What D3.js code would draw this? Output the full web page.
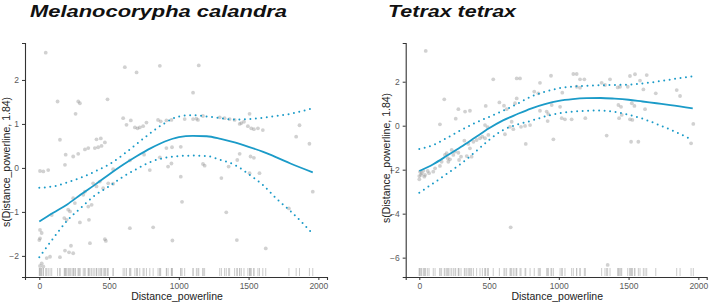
<!DOCTYPE html>
<html lang="en">
<head>
<meta charset="UTF-8">
<title>GAM smooths - distance to powerline</title>
<script src="https://cdn.jsdelivr.net/npm/d3@7"></script>
<style>
    body { margin: 0; background: #fff; }
    svg { display: block; font-family: Arial, "Liberation Sans", sans-serif; }
</style>
</head>
<body>
<svg width="709" height="303"></svg>
<script>
    // x positions where the smooth and its confidence band were read
    const gridX = [0, 100, 200, 300, 400, 500, 600, 700, 800, 900, 1000, 1100, 1200, 1300, 1400, 1500, 1600, 1700, 1800, 1960];
    const xTicks = [0, 500, 1000, 1500, 2000];

    // Melanocorypha calandra
    const calFit   = [-1.22, -1.02, -0.83, -0.6, -0.38, -0.15, 0.07, 0.27, 0.45, 0.6, 0.7, 0.73, 0.72, 0.66, 0.58, 0.48, 0.37, 0.24, 0.1, -0.1];
    const calUpper = [-0.45, -0.42, -0.33, -0.22, -0.08, 0.08, 0.3, 0.55, 0.8, 1.02, 1.17, 1.2, 1.17, 1.13, 1.1, 1.11, 1.14, 1.18, 1.23, 1.36];
    const calLower = [-2.03, -1.6, -1.2, -0.9, -0.62, -0.42, -0.2, -0.02, 0.14, 0.23, 0.27, 0.28, 0.27, 0.18, 0.07, -0.14, -0.38, -0.7, -0.98, -1.5];
    const calYTicks = [-2, -1, 0, 1, 2];
    const calPoints = [
        [46,2.62],[613,2.29],[131,1.51],[279,1.51],[291,1.47],[489,1.56],[260,1.23],[601,1.13],[625,0.98],[148,0.64],
        [410,0.65],[441,0.67],[398,0.45],[422,0.47],[446,0.5],[470,0.58],[327,0.42],[351,0.45],[189,0.3],[243,0.26],
        [279,0.32],[184,0.07],[5,-0.07],[29,-0.08],[64,-0.05],[529,-0.03],[386,-0.35],[410,-0.42],[434,-0.31],[458,-0.46],
        [494,-0.35],[529,-0.36],[327,-0.54],[315,-0.61],[351,-0.88],[375,-0.84],[243,-0.69],[255,-0.8],[207,-0.95],[220,-0.99],
        [179,-1.14],[196,-1.18],[89,-1.07],[291,-1.24],[356,-1.18],[5,-1.41],[17,-1.48],[5,-1.6],[0,-1.64],[470,-1.62],
        [477,-1.66],[363,-1.71],[227,-1.77],[184,-1.88],[213,-1.92],[243,-1.94],[148,-2.03],[53,-2.05],[77,-2.02],[17,-2.17],
        [5,-2.23],[29,-2.24],[697,2.17],[864,2.32],[1143,2.33],[1102,1.71],[656,1.08],[685,0.92],[704,0.9],[720,0.92],
        [744,0.95],[768,1.03],[851,1.09],[870,1.06],[911,1.08],[947,1.09],[1042,1.11],[1102,1.11],[1126,1.12],[1137,1.09],
        [1173,1.18],[1293,1.15],[1328,1.13],[649,0.17],[751,0.3],[792,-0.05],[864,0.24],[911,0.45],[951,0.47],[1014,0.48],
        [923,0.03],[947,0.1],[1173,0.09],[1185,0.05],[1014,-0.2],[1305,-0.23],[1357,0.03],[1023,-0.77],[649,-1.37],[816,-1.35],
        [954,-1.65],[1340,-1.01],[1364,1.11],[1400,1.09],[1436,1.0],[1448,1.02],[1467,1.05],[1507,1.23],[1495,0.95],[1519,0.9],
        [1538,0.88],[1567,0.9],[1602,0.86],[1865,0.97],[1841,0.71],[1936,0.55],[1436,0.32],[1419,0.18],[1514,0.26],[1538,0.23],
        [1507,-0.12],[1578,-0.12],[1789,-0.92],[1960,-0.54],[1416,-1.64],[1623,-1.83]
    ];

    // Tetrax tetrax
    const tetFit   = [-2.06, -1.75, -1.36, -0.96, -0.54, -0.12, 0.24, 0.52, 0.78, 0.98, 1.13, 1.21, 1.25, 1.26, 1.23, 1.18, 1.1, 1.02, 0.94, 0.79];
    const tetUpper = [-1.06, -0.88, -0.55, -0.2, 0.12, 0.4, 0.68, 0.98, 1.32, 1.54, 1.7, 1.78, 1.82, 1.84, 1.85, 1.87, 1.92, 2.0, 2.1, 2.25];
    const tetLower = [-3.05, -2.62, -2.18, -1.72, -1.2, -0.65, -0.2, 0.05, 0.22, 0.42, 0.56, 0.64, 0.68, 0.69, 0.63, 0.5, 0.32, 0.08, -0.18, -0.65];
    const tetYTicks = [-6, -4, -2, 0, 2];
    const tetPoints = [
        [46,3.4],[530,2.11],[179,1.2],[280,0.75],[328,0.64],[363,0.68],[476,0.9],[261,0.32],[148,0.06],[574,1.06],
        [607,0.91],[626,0.75],[471,0.03],[490,-0.07],[614,-0.39],[388,-0.73],[411,-0.65],[435,-0.57],[452,-0.5],[471,-0.57],
        [495,-0.42],[323,-0.68],[351,-0.83],[363,-1.03],[340,-1.38],[375,-1.41],[280,-1.23],[299,-1.41],[232,-1.1],[256,-1.18],
        [244,-1.33],[184,-1.33],[204,-1.48],[196,-1.25],[160,-1.64],[148,-1.83],[220,-1.53],[208,-1.64],[285,-1.56],[60,-2.06],
        [70,-2.16],[41,-2.24],[5,-2.09],[17,-2.16],[12,-2.24],[0,-2.29],[29,-2.05],[0,-2.44],[36,-2.32],[100,-2.09],
        [113,-1.94],[655,-4.62],[698,2.15],[722,2.15],[944,2.27],[865,1.95],[1104,2.35],[1128,2.35],[1152,2.11],[1183,2.11],
        [1128,1.77],[1152,1.73],[1307,1.95],[1331,1.85],[698,1.24],[686,1.02],[824,1.55],[853,1.47],[1025,1.5],[949,0.94],
        [1009,0.86],[865,0.68],[913,0.64],[925,0.53],[920,0.21],[1021,0.34],[1044,0.29],[1092,0.29],[1190,0.34],[662,0.18],
        [650,-0.05],[674,-0.16],[729,-0.05],[758,-0.01],[794,0.03],[763,-0.83],[961,-0.62],[1343,-0.45],[1350,-6.33],[1367,2.11],
        [1510,2.26],[1546,2.34],[1630,2.3],[1582,2.05],[1439,1.77],[1422,1.74],[1494,1.77],[1606,1.65],[1695,1.47],[1845,1.62],
        [1869,1.35],[1427,0.94],[1446,0.86],[1523,1.02],[1542,0.9],[1451,0.49],[1432,0.34],[1510,0.29],[1527,0.26],[1618,0.75],
        [1518,-0.73],[1570,-0.73],[1948,-0.8],[1964,0.08]
    ];

    const svg = d3.select("svg");
    const lineColor = "#1b9bc8";

    function drawPanel(p) {
        let x = d3.scaleLinear().domain(p.xDomain).range([p.left, p.right]);
        let y = d3.scaleLinear().domain(p.yDomain).range([p.bottom, p.top]);
        let g = svg.append("g");

        // title
        g.append("text")
            .attr("x", p.titleX).attr("y", 17)
            .attr("font-size", 17).attr("font-weight", "bold").attr("font-style", "italic")
            .attr("textLength", p.titleLen).attr("lengthAdjust", "spacingAndGlyphs")
            .attr("fill", "#111")
            .text(p.title);

        // rug along the bottom
        g.append("g")
            .selectAll("line")
            .data(p.points)
            .enter()
            .append("line")
            .attr("x1", d => x(d[0])).attr("x2", d => x(d[0]))
            .attr("y1", p.bottom - 9).attr("y2", p.bottom - 1)
            .attr("stroke", "#b5b5b5").attr("stroke-width", 0.7);

        // partial residuals
        g.append("g")
            .selectAll("circle")
            .data(p.points)
            .enter()
            .append("circle")
            .attr("cx", d => x(d[0])).attr("cy", d => y(d[1]))
            .attr("r", 1.9)
            .attr("fill", "#8c8c8c").attr("fill-opacity", 0.4);

        let line = d3.line()
            .x((d, i) => x(gridX[i]))
            .y(d => y(d))
            .curve(d3.curveMonotoneX);

        // confidence band (dotted) and smooth
        [p.upper, p.lower].forEach(s => {
            g.append("path")
                .attr("d", line(s))
                .attr("fill", "none")
                .attr("stroke", lineColor).attr("stroke-width", 2)
                .attr("stroke-linecap", "round")
                .attr("stroke-dasharray", "0 5.5");
        });
        g.append("path")
            .attr("d", line(p.fit))
            .attr("fill", "none")
            .attr("stroke", lineColor).attr("stroke-width", 1.8);

        // axes
        let xAxis = d3.axisBottom(x).tickValues(xTicks).tickFormat(d3.format("d"))
            .tickSizeOuter(0).tickSize(3).tickPadding(3);
        let yAxis = d3.axisLeft(y).tickValues(p.yTicks).tickFormat(d3.format("d"))
            .tickSizeOuter(0).tickSize(3).tickPadding(3);

        let gx = g.append("g").attr("transform", `translate(0,${p.bottom})`).call(xAxis);
        let gy = g.append("g").attr("transform", `translate(${p.left},0)`).call(yAxis);
        [gx, gy].forEach(a => {
            a.select(".domain").attr("stroke", "#333").attr("stroke-width", 1.1);
            a.selectAll(".tick line").attr("stroke", "#333");
            a.selectAll(".tick text").attr("fill", "#5a5a5a").attr("font-size", 8.5)
                .attr("font-family", "Arial, 'Liberation Sans', sans-serif");
        });

        // axis titles
        g.append("text")
            .attr("x", (p.left + p.right) / 2 + 1).attr("y", 300)
            .attr("text-anchor", "middle").attr("font-size", 10.5).attr("fill", "#222")
            .text("Distance_powerline");
        g.append("text")
            .attr("transform", `translate(${p.yLabelX},${p.yLabelY}) rotate(-90)`)
            .attr("text-anchor", "middle").attr("font-size", 10.5).attr("fill", "#222")
            .text("s(Distance_powerline, 1.84)");
    }

    drawPanel({
        title: "Melanocorypha calandra", titleX: 30, titleLen: 257,
        left: 25, right: 327, top: 43, bottom: 277,
        xDomain: [-102.5, 2062], yDomain: [-2.48, 2.84],
        yTicks: calYTicks, points: calPoints,
        fit: calFit, upper: calUpper, lower: calLower,
        yLabelX: 10, yLabelY: 162
    });

    drawPanel({
        title: "Tetrax tetrax", titleX: 388, titleLen: 128,
        left: 405.7, right: 706.7, top: 43, bottom: 277,
        xDomain: [-97.5, 2060], yDomain: [-6.88, 3.76],
        yTicks: tetYTicks, points: tetPoints,
        fit: tetFit, upper: tetUpper, lower: tetLower,
        yLabelX: 390, yLabelY: 158
    });
</script>
</body>
</html>
